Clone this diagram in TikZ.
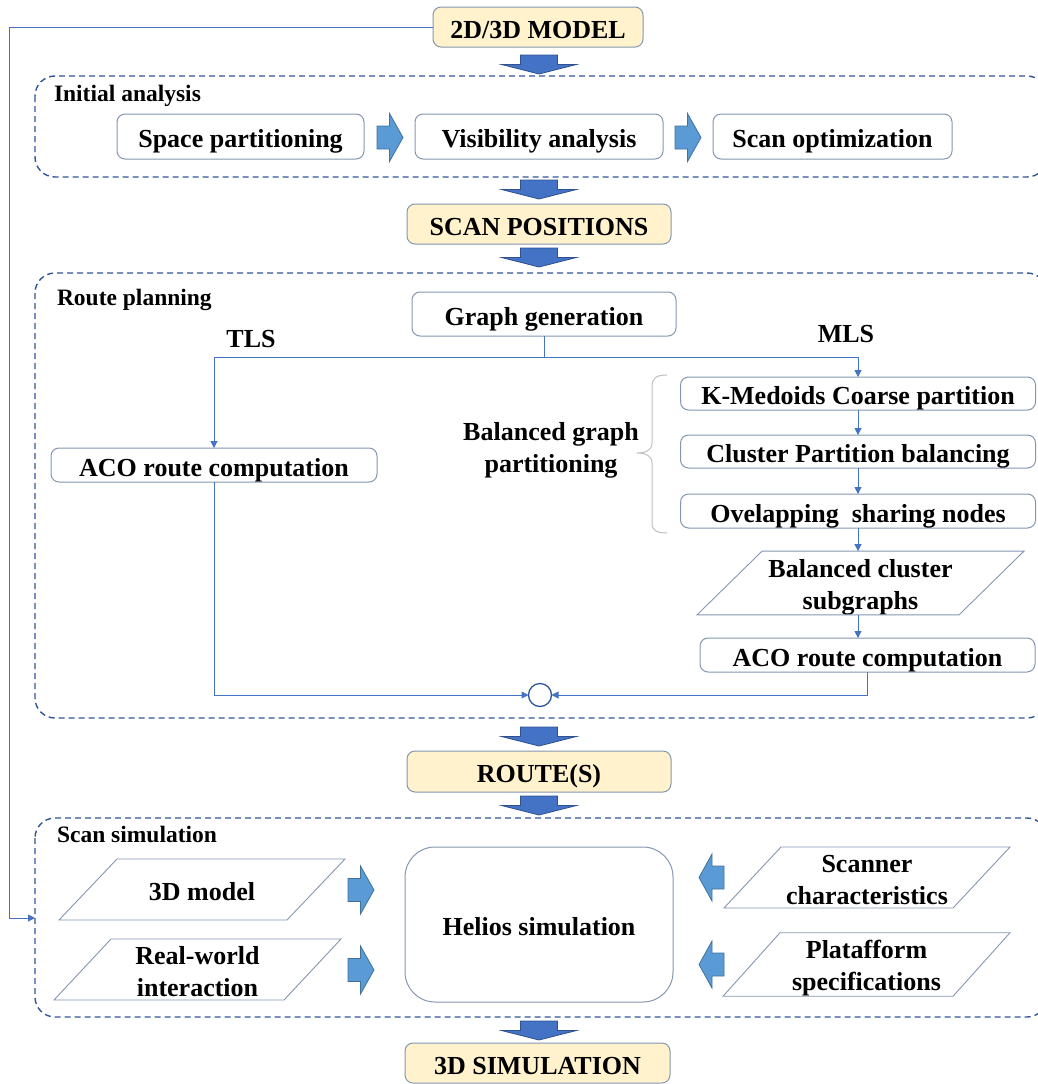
\documentclass[tikz,border=0pt]{standalone}
\usepackage{fontspec}
\setmainfont{Liberation Serif}
\usetikzlibrary{arrows.meta,calc}
\definecolor{yel}{HTML}{FFF2CC}
\definecolor{bord}{HTML}{8497B0}
\definecolor{dashc}{HTML}{2F5597}
\definecolor{connc}{HTML}{4472C4}
\definecolor{dfill}{HTML}{4472C4}
\definecolor{dedge}{HTML}{2F528F}
\definecolor{sfill}{HTML}{5B9BD5}
\definecolor{sedge}{HTML}{41719C}
\definecolor{brc}{HTML}{BFBFBF}
\tikzset{
  darrow/.pic={\draw[fill=dfill,draw=dedge,line width=0.8pt] (-18.5,0) -- (18.5,0) -- (18.5,9.5) -- (37.5,9.5) -- (0,19) -- (-37.5,9.5) -- (-18.5,9.5) -- cycle;},
  rarrow/.pic={\draw[fill=sfill,draw=sedge,line width=0.8pt] (0,-11.5) -- (12.5,-11.5) -- (12.5,-24) -- (26,0) -- (12.5,24) -- (12.5,11.5) -- (0,11.5) -- cycle;},
  larrow/.pic={\draw[fill=sfill,draw=sedge,line width=0.8pt] (0,0) -- (13,-23.5) -- (13,-11.5) -- (25,-11.5) -- (25,11.5) -- (13,11.5) -- (13,23.5) -- cycle;}
}
\newcommand{\drawpara}[2]{\draw[draw=bord,line width=0.9pt] ([xshift=#2pt]#1.north west) -- (#1.north east) -- ([xshift=-#2pt]#1.south east) -- (#1.south west) -- cycle;}
\newcommand{\tallrule}[1]{\rule{0pt}{#1pt}}
\begin{document}
\begin{tikzpicture}[x=1pt,y=-1pt,
  every node/.style={font=\fontsize{26}{32}\selectfont\bfseries, inner sep=0pt, outer sep=0pt},
  wbox/.style 2 args={draw=bord, line width=1pt, rounded corners=8pt, fill=white, minimum width=#1pt, minimum height=#2pt, text height=22pt, text depth=0pt},
  ybox/.style 2 args={wbox={#1}{#2}, fill=yel},
  para/.style 2 args={minimum width=#1pt, minimum height=#2pt, align=center},
  lab/.style={font=\fontsize{23.5}{28}\selectfont\bfseries, anchor=base west},
  dbox/.style={draw=dashc, line width=1.4pt, dash pattern=on 6pt off 4pt, rounded corners=20pt},
  cline/.style={draw=connc, line width=1pt},
  conn/.style={draw=connc, line width=1pt, -{Triangle[length=7pt,width=7pt]}}
]
\useasboundingbox (0,0) rectangle (1038,1084);

% dashed group frames
\draw[dbox] (35,76) rectangle (1047,177);
\draw[dbox] (35,273) rectangle (1047,718);
\draw[dbox] (35,818) rectangle (1047,1017);

% labels
\node[lab] (lia) at (54,101) {Initial analysis};
\node[lab] (lrp) at (57,305) {Route planning};
\node[lab] (lss) at (57,842) {Scan simulation};

% main flow
\node[ybox={210}{40}] (model) at (538,27) {2D/3D MODEL};
\pic at (539,55) {darrow};
\node[wbox={247}{45}] (sp) at (240.5,136.5) {Space partitioning};
\pic at (377,137.5) {rarrow};
\node[wbox={248}{45}] (va) at (539,136.5) {Visibility analysis};
\pic at (675,137.5) {rarrow};
\node[wbox={239}{45}] (so) at (832.5,136.5) {Scan optimization};
\pic at (539,180) {darrow};
\node[ybox={264}{40}] (scanpos) at (539,224) {SCAN POSITIONS};
\pic at (539,248) {darrow};

% route planning
\node[wbox={264}{44}] (gg) at (544,314) {Graph generation};
\node (tls) at (251,339) {TLS};
\node (mls) at (846,334) {MLS};
\coordinate (junc) at (544,357);
\node[wbox={326}{34}] (acoL) at (214,465) {ACO route computation};
\node[wbox={355}{33}] (km) at (858,393.5) {K-Medoids Coarse partition};
\node[wbox={355}{33}] (cpb) at (858,451.5) {Cluster Partition balancing};
\node[wbox={355}{34}] (osn) at (858,511) {Ovelapping\ \ sharing nodes};
\node[para={327}{62}] (bcs) at (860.5,583) {\tallrule{26}Balanced cluster\\subgraphs};
\drawpara{bcs}{65}
\node[wbox={335}{34}] (acoR) at (867.5,655) {ACO route computation};
\node[align=center] (bgp) at (551,450) {Balanced graph\\partitioning};
\draw[draw=brc,line width=1pt] (667,375) .. controls (656,375) and (652,378) .. (652,387) -- (652,443) .. controls (652,450) and (646,453) .. (637,453) .. controls (646,453) and (652,456) .. (652,463) -- (652,523) .. controls (652,530) and (656,533) .. (667,533);
\node[circle, draw=dashc, line width=1.3pt, fill=white, minimum size=23pt] (circ) at (540,695) {};

\draw[cline] (gg.south) -- (junc);
\draw[conn] (junc) -| (acoL.north);
\draw[conn] (junc) -| (km.north);
\draw[conn] (km.south) -- (cpb.north);
\draw[conn] (cpb.south) -- (osn.north);
\draw[conn] (osn.south) -- (osn.south |- bcs.north);
\draw[conn] (osn.south |- bcs.south) -- (osn.south |- acoR.north);
\draw[conn] (acoL.south) |- (circ.west);
\draw[conn] (acoR.south) |- (circ.east);

% routes
\pic at (539,727) {darrow};
\node[ybox={264}{41}] (route) at (539,771.5) {ROUTE(S)};
\pic at (539,796) {darrow};

% scan simulation
\node[para={286}{61}] (m3d) at (202,889.5) {\tallrule{22}3D model};
\drawpara{m3d}{58}
\node[para={287}{61}] (rwi) at (197.5,969.5) {\tallrule{22}Real-world\\interaction};
\drawpara{rwi}{57}
\pic at (348,890) {rarrow};
\pic at (348,970) {rarrow};
\node[draw=bord, line width=1pt, rounded corners=30pt, minimum width=268pt, minimum height=155pt, text height=21pt, text depth=0pt] (helios) at (539,924.5) {Helios simulation};
\pic at (699,877.5) {larrow};
\pic at (699,964.5) {larrow};
\node[para={286}{61}] (scn) at (867,877.5) {\tallrule{22}Scanner\\characteristics};
\drawpara{scn}{57}
\node[para={287}{61}] (plat) at (866.5,964.5) {\tallrule{26}Platafform\\specifications};
\drawpara{plat}{57}

\pic at (539,1021) {darrow};
\node[ybox={265}{40}] (sim3d) at (537.5,1063) {3D SIMULATION};

% feedback
\coordinate (fbend) at (35,918);
\draw[conn] (model.west) -- ++(-424,0) |- (fbend);
\end{tikzpicture}
\end{document}
